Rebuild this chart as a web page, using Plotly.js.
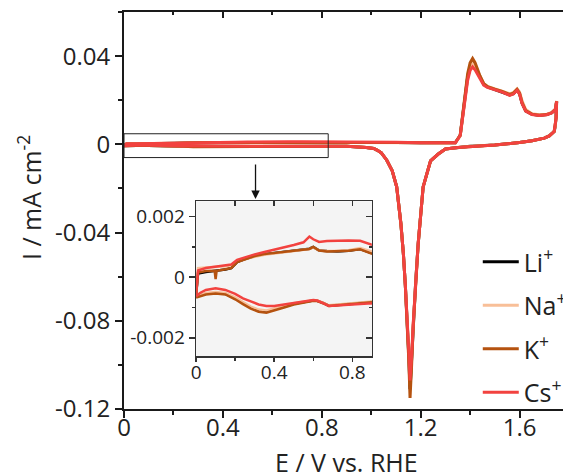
<!DOCTYPE html>
<html>
<head>
<meta charset="utf-8">
<script src="https://cdn.plot.ly/plotly-3.0.1.min.js"></script>
<style>html,body{margin:0;padding:0;overflow:hidden;background:#fff;}#chart{width:575px;height:475px;}</style>
</head>
<body>
<div id="chart"></div>
<script>
// ---- Potential grids (V vs. RHE) ----
// anodic sweep, low-potential part (shown in inset)
var E_anodicLow = [0, 0.01, 0.05, 0.095, 0.1, 0.105, 0.15, 0.18, 0.21, 0.25, 0.3, 0.35, 0.4, 0.45, 0.5, 0.55, 0.58, 0.6, 0.63, 0.67, 0.72, 0.78, 0.84, 0.9];
// anodic sweep, high-potential part
var E_anodicHigh = [1.0, 1.1, 1.2, 1.3, 1.34, 1.36, 1.37, 1.38, 1.39, 1.40, 1.41, 1.42, 1.44, 1.455, 1.47, 1.5, 1.53, 1.56, 1.575, 1.59, 1.6, 1.61, 1.625, 1.65, 1.68, 1.71, 1.73, 1.745, 1.75];
// cathodic sweep, high-potential part
var E_cathodicHigh = [1.748, 1.745, 1.74, 1.72, 1.7, 1.65, 1.6, 1.5, 1.4, 1.35, 1.3, 1.27, 1.24, 1.21, 1.19, 1.18, 1.17, 1.163, 1.157, 1.152, 1.146, 1.138, 1.13, 1.12, 1.103, 1.085, 1.063, 1.04, 1.025, 1.01, 0.98, 0.95];
// cathodic sweep, low-potential part (shown in inset)
var E_cathodicLow = [0.9, 0.85, 0.8, 0.75, 0.7, 0.68, 0.65, 0.62, 0.6, 0.55, 0.5, 0.45, 0.4, 0.36, 0.32, 0.28, 0.24, 0.2, 0.15, 0.1, 0.05, 0.02, 0];

// ---- Currents (mA cm^-2) ----
var Li_anodicLow = [-0.0006, 0.00012, 0.00017, 0.0002, 0.0002, 0.0002, 0.00025, 0.0003, 0.0005, 0.0006, 0.0007, 0.00076, 0.0008, 0.00084, 0.00088, 0.0009, 0.00094, 0.001, 0.00088, 0.00086, 0.00085, 0.00087, 0.00093, 0.00079];
var Na_anodicLow = [-0.0006, 0.0003, 0.00032, 0.00033, 0.00033, 0.00033, 0.00036, 0.0004, 0.00052, 0.0006, 0.00068, 0.00074, 0.00078, 0.00082, 0.00086, 0.00089, 0.00093, 0.00098, 0.00088, 0.00086, 0.00086, 0.00089, 0.00096, 0.00085];
var K_anodicLow  = [-0.0006, 0.00015, 0.0002, 0.00021, -0.00006, 0.00021, 0.00026, 0.0003, 0.0005, 0.0006, 0.0007, 0.00076, 0.0008, 0.00083, 0.00087, 0.0009, 0.00093, 0.001, 0.00088, 0.00085, 0.00085, 0.00087, 0.00092, 0.00077];
var Cs_anodicLow = [-0.0006, 0.00022, 0.0003, 0.00034, 0.00035, 0.00035, 0.0004, 0.00042, 0.00057, 0.00066, 0.00075, 0.00083, 0.0009, 0.00098, 0.00106, 0.00115, 0.00134, 0.00125, 0.00116, 0.00119, 0.00121, 0.00121, 0.0012, 0.00107];

var Li_anodicHigh = [0.0009, 0.0008, 0.0007, 0.0005, 0.0007, 0.004, 0.0125, 0.023, 0.0305, 0.035, 0.0368, 0.0352, 0.0302, 0.0272, 0.026, 0.0249, 0.0238, 0.0224, 0.023, 0.0247, 0.023, 0.0188, 0.0152, 0.0136, 0.0132, 0.0135, 0.0143, 0.0158, 0.0195];
var Na_anodicHigh = [0.0009, 0.0008, 0.0007, 0.0005, 0.0007, 0.0038, 0.012, 0.0225, 0.030, 0.0348, 0.0366, 0.0352, 0.0305, 0.0276, 0.0263, 0.0252, 0.0242, 0.0229, 0.0235, 0.0252, 0.0238, 0.0198, 0.0158, 0.0139, 0.0134, 0.0137, 0.0145, 0.016, 0.0197];
var K_anodicHigh  = [0.0009, 0.0008, 0.0007, 0.0005, 0.0007, 0.0042, 0.013, 0.024, 0.032, 0.037, 0.0389, 0.037, 0.031, 0.0275, 0.0262, 0.025, 0.024, 0.0226, 0.0232, 0.0249, 0.0232, 0.019, 0.0153, 0.0137, 0.0132, 0.0135, 0.0143, 0.0158, 0.0195];
var Cs_anodicHigh = [0.001, 0.0009, 0.0007, 0.0005, 0.0007, 0.004, 0.012, 0.022, 0.029, 0.0335, 0.0351, 0.0338, 0.0295, 0.0268, 0.0258, 0.0247, 0.0237, 0.0222, 0.0228, 0.0245, 0.0228, 0.0185, 0.015, 0.0135, 0.0131, 0.0134, 0.0142, 0.0158, 0.0195];

var Li_cathodicHigh = [0.012, 0.0085, 0.0058, 0.0038, 0.0028, 0.0016, 0.0008, -0.0003, -0.0009, -0.0014, -0.0021, -0.0045, -0.0075, -0.0193, -0.045, -0.062, -0.081, -0.099, -0.111, -0.096, -0.0797, -0.064, -0.0495, -0.036, -0.0193, -0.012, -0.0072, -0.0038, -0.0027, -0.0019, -0.0014, -0.0011];
var Na_cathodicHigh = [0.012, 0.0085, 0.0058, 0.0038, 0.0028, 0.0016, 0.0008, -0.0003, -0.0009, -0.0014, -0.0021, -0.0045, -0.0075, -0.0193, -0.045, -0.062, -0.081, -0.098, -0.109, -0.095, -0.0797, -0.064, -0.0495, -0.036, -0.0193, -0.012, -0.0072, -0.0038, -0.0027, -0.0019, -0.0014, -0.0011];
var K_cathodicHigh  = [0.012, 0.0085, 0.0058, 0.0038, 0.0028, 0.0016, 0.0008, -0.0003, -0.0009, -0.0014, -0.0021, -0.0045, -0.0075, -0.0193, -0.045, -0.062, -0.082, -0.101, -0.115, -0.098, -0.0800, -0.064, -0.0495, -0.036, -0.0193, -0.012, -0.0072, -0.0038, -0.0027, -0.0019, -0.0014, -0.0011];
var Cs_cathodicHigh = [0.012, 0.0085, 0.0058, 0.0038, 0.0028, 0.0016, 0.0008, -0.0003, -0.0009, -0.0014, -0.0021, -0.0045, -0.0075, -0.0193, -0.045, -0.062, -0.081, -0.097, -0.107, -0.094, -0.0797, -0.064, -0.0495, -0.036, -0.0193, -0.012, -0.0072, -0.0038, -0.0027, -0.0019, -0.0014, -0.0011];

var Li_cathodicLow = [-0.00082, -0.00085, -0.00088, -0.0009, -0.00093, -0.00094, -0.00085, -0.00078, -0.00077, -0.00082, -0.00088, -0.00098, -0.00106, -0.00113, -0.0011, -0.001, -0.00085, -0.0007, -0.00055, -0.00052, -0.00055, -0.0006, -0.00066];
var Na_cathodicLow = [-0.0008, -0.00083, -0.00086, -0.00089, -0.00092, -0.00093, -0.00084, -0.00077, -0.00076, -0.0008, -0.00086, -0.00095, -0.00103, -0.0011, -0.00107, -0.00097, -0.00082, -0.00067, -0.00052, -0.00049, -0.00052, -0.00058, -0.00064];
var K_cathodicLow  = [-0.00083, -0.00086, -0.00089, -0.00091, -0.00094, -0.00095, -0.00086, -0.00079, -0.00078, -0.00084, -0.0009, -0.001, -0.0011, -0.00117, -0.00114, -0.00104, -0.00089, -0.00073, -0.00057, -0.00054, -0.00057, -0.00062, -0.00067];
var Cs_cathodicLow = [-0.00086, -0.00088, -0.0009, -0.00092, -0.00094, -0.00095, -0.00086, -0.00077, -0.00075, -0.0008, -0.00084, -0.0009, -0.00095, -0.00095, -0.0009, -0.0008, -0.0007, -0.00055, -0.00042, -0.00037, -0.00042, -0.00052, -0.00064];

var seriesNames = ["Li<sup>+</sup>", "Na<sup>+</sup>", "K<sup>+</sup>", "Cs<sup>+</sup>"];
var seriesColors = ["#000000", "#f8bf98", "#b5520f", "#f2423f"];

// titles and tick labels
var xTitle = "E / V vs. RHE";
var yTitle = "I / mA cm<sup>-2</sup>";
var xTickVals = [0, 0.4, 0.8, 1.2, 1.6];
var xTickText = ["0", "0.4", "0.8", "1.2", "1.6"];
var xMinorVals = [0.2, 0.6, 1.0, 1.4, 1.8];
var yTickVals = [0.04, 0, -0.04, -0.08, -0.12];
var yTickText = ["0.04", "0", "-0.04", "-0.08", "-0.12"];
var yMinorVals = [0.06, 0.02, -0.02, -0.06, -0.1];
var inXTickVals = [0, 0.4, 0.8];
var inXTickText = ["0", "0.4", "0.8"];
var inXMinorVals = [0.2, 0.6];
var inYTickVals = [0.002, 0, -0.002];
var inYTickText = ["0.002", "0", "-0.002"];
var inYMinorVals = [0.001, -0.001];

var currents = [
  [Li_anodicLow, Li_anodicHigh, Li_cathodicHigh, Li_cathodicLow],
  [Na_anodicLow, Na_anodicHigh, Na_cathodicHigh, Na_cathodicLow],
  [K_anodicLow, K_anodicHigh, K_cathodicHigh, K_cathodicLow],
  [Cs_anodicLow, Cs_anodicHigh, Cs_cathodicHigh, Cs_cathodicLow]
];
var E_all = E_anodicLow.concat(E_anodicHigh, E_cathodicHigh, E_cathodicLow);

var FONT = "Open Sans, Segoe UI, sans-serif";
var traces = [];
for (var i = 0; i < 4; i++) {
  var I_all = currents[i][0].concat(currents[i][1], currents[i][2], currents[i][3]);
  traces.push({x: E_all, y: I_all, type: "scatter", mode: "lines", name: seriesNames[i],
    legendgroup: "g" + i, line: {color: seriesColors[i], width: 3}, xaxis: "x", yaxis: "y"});
}
for (var j = 0; j < 4; j++) {
  var I_in = currents[j][0].concat(currents[j][1], currents[j][2], currents[j][3]);
  traces.push({x: E_all, y: I_in, type: "scatter", mode: "lines", showlegend: false,
    line: {color: seriesColors[j], width: 2.5}, xaxis: "x2", yaxis: "y2", hoverinfo: "skip"});
}
// helper traces so that the mirrored tick axes are drawn
traces.push({x: [], y: [], xaxis: "x3", yaxis: "y", showlegend: false});
traces.push({x: [], y: [], xaxis: "x", yaxis: "y3", showlegend: false});
traces.push({x: [], y: [], xaxis: "x4", yaxis: "y2", showlegend: false});
traces.push({x: [], y: [], xaxis: "x2", yaxis: "y4", showlegend: false});

var axCol = "#1a1a1a";
var layout = {
  width: 575, height: 475,
  margin: {l: 124, r: 6, t: 12, b: 66, autoexpand: false},
  paper_bgcolor: "#ffffff", plot_bgcolor: "rgba(0,0,0,0)",
  font: {family: FONT, size: 22, color: "#222"},
  showlegend: true,
  legend: {x: 0.795, y: 0.428, xanchor: "left", yanchor: "top", bgcolor: "rgba(0,0,0,0)", itemwidth: 36,
    font: {family: FONT, size: 25, color: "#222"}, tracegroupgap: 8, traceorder: "grouped"},
  xaxis: {domain: [0, 1], range: [0, 1.8], anchor: "y", tickmode: "array", tickvals: xTickVals, ticktext: xTickText,
    ticks: "outside", ticklen: 7, tickwidth: 2, tickcolor: axCol, showline: true, linecolor: axCol, linewidth: 2,
    showgrid: false, zeroline: false, tickfont: {size: 24, family: FONT, color: "#222"}, ticklabelstandoff: -11,
    minor: {tickmode: "array", tickvals: xMinorVals, ticks: "outside", ticklen: 4, tickwidth: 2, tickcolor: axCol}},
  yaxis: {domain: [0, 1], range: [-0.12, 0.06], anchor: "x", tickmode: "array", tickvals: yTickVals, ticktext: yTickText,
    ticks: "outside", ticklen: 7, tickwidth: 2, tickcolor: axCol, showline: true, linecolor: axCol, linewidth: 2,
    showgrid: false, zeroline: false, tickfont: {size: 24, family: FONT, color: "#222"},
    minor: {tickmode: "array", tickvals: yMinorVals, ticks: "outside", ticklen: 4, tickwidth: 2, tickcolor: axCol}},
  xaxis3: {overlaying: "x", side: "top", anchor: "y", range: [0, 1.8], tickmode: "array", tickvals: xTickVals,
    showticklabels: false, ticks: "inside", ticklen: 6, tickwidth: 2, tickcolor: axCol, showline: true,
    linecolor: axCol, linewidth: 2, showgrid: false, zeroline: false,
    minor: {tickmode: "array", tickvals: xMinorVals, ticks: "inside", ticklen: 3, tickwidth: 2, tickcolor: axCol}},
  yaxis3: {overlaying: "y", side: "right", anchor: "x", range: [-0.12, 0.06], tickmode: "array", tickvals: yTickVals,
    showticklabels: false, ticks: "inside", ticklen: 6, tickwidth: 2, tickcolor: axCol, showline: true,
    linecolor: axCol, linewidth: 2, showgrid: false, zeroline: false,
    minor: {tickmode: "array", tickvals: yMinorVals, ticks: "inside", ticklen: 3, tickwidth: 2, tickcolor: axCol}},
  xaxis2: {domain: [0.162, 0.557], range: [0, 0.9], anchor: "y2", tickmode: "array", tickvals: inXTickVals, ticktext: inXTickText,
    ticks: "outside", ticklen: 4, tickwidth: 1.5, tickcolor: "#333", showline: true, linecolor: "#333", linewidth: 1.5,
    showgrid: false, zeroline: false, tickfont: {size: 19, family: FONT, color: "#222"}, ticklabelstandoff: -5,
    minor: {tickmode: "array", tickvals: inXMinorVals, ticks: "outside", ticklen: 3, tickwidth: 1.5, tickcolor: "#333"}},
  yaxis2: {domain: [0.1335, 0.523], range: [-0.0026, 0.0025], anchor: "x2", tickmode: "array", tickvals: inYTickVals, ticktext: inYTickText,
    ticks: "outside", ticklen: 6, tickwidth: 1.5, tickcolor: "#333", showline: true, linecolor: "#333", linewidth: 1.5,
    showgrid: false, zeroline: false, tickfont: {size: 19, family: FONT, color: "#222"},
    minor: {tickmode: "array", tickvals: inYMinorVals, ticks: "outside", ticklen: 3, tickwidth: 1.5, tickcolor: "#333"}},
  xaxis4: {overlaying: "x2", side: "top", anchor: "y2", range: [0, 0.9], tickmode: "array", tickvals: inXTickVals,
    showticklabels: false, ticks: "inside", ticklen: 5, tickwidth: 1.5, tickcolor: "#333", showline: true,
    linecolor: "#333", linewidth: 1.5, showgrid: false, zeroline: false,
    minor: {tickmode: "array", tickvals: inXMinorVals, ticks: "inside", ticklen: 5, tickwidth: 1.5, tickcolor: "#333"}},
  yaxis4: {overlaying: "y2", side: "right", anchor: "x2", range: [-0.0026, 0.0025], tickmode: "array", tickvals: inYTickVals,
    showticklabels: false, ticks: "inside", ticklen: 6, tickwidth: 1.5, tickcolor: "#333", showline: true,
    linecolor: "#333", linewidth: 1.5, showgrid: false, zeroline: false,
    minor: {tickmode: "array", tickvals: inYMinorVals, ticks: "inside", ticklen: 3, tickwidth: 1.5, tickcolor: "#333"}},
  shapes: [
    {type: "rect", xref: "x2 domain", yref: "y2 domain", x0: 0, x1: 1, y0: 0, y1: 1,
      fillcolor: "#f4f4f4", line: {width: 0}, layer: "below"},
    {type: "rect", xref: "x", yref: "y", x0: 0, x1: 0.826, y0: -0.006, y1: 0.0048,
      line: {color: "#222", width: 1}, fillcolor: "rgba(0,0,0,0)"}
  ],
  annotations: [
    {xref: "x", yref: "y", x: 0.532, y: -0.0248, axref: "pixel", ayref: "pixel", ax: 0, ay: -36,
      text: "", showarrow: true, arrowhead: 2, arrowsize: 1.3, arrowwidth: 1.3, arrowcolor: "#111"},
    {xref: "paper", yref: "paper", x: 0.501, y: -0.088, xanchor: "center", yanchor: "top", showarrow: false,
      text: xTitle, font: {size: 25, family: FONT, color: "#222"}, borderpad: 0},
    {xref: "paper", yref: "paper", x: -0.211, y: 0.5315, xanchor: "center", yanchor: "middle", showarrow: false,
      textangle: -90, text: yTitle, font: {size: 25, family: FONT, color: "#222"}, borderpad: 0}
  ]
};

Plotly.newPlot("chart", traces, layout, {staticPlot: true, displayModeBar: false});
</script>
</body>
</html>
